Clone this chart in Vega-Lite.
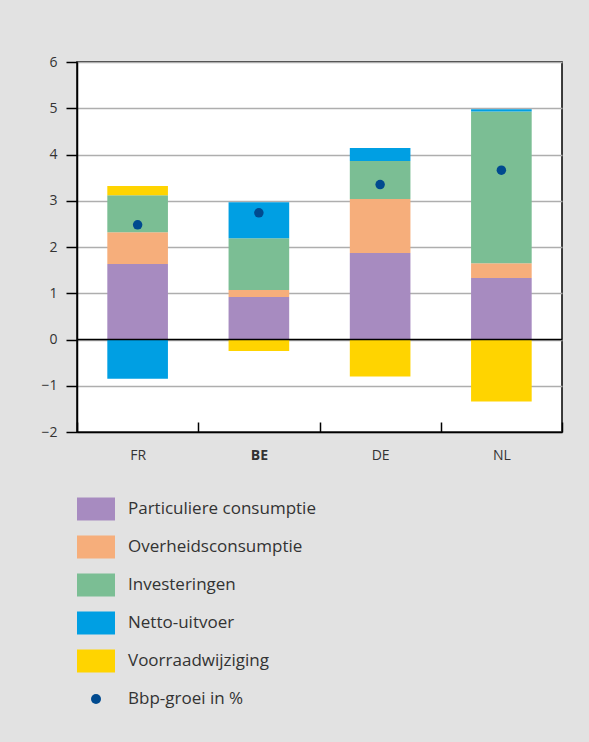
{
  "$schema": "https://vega.github.io/schema/vega-lite/v6.json",
  "width": 485,
  "height": 370,
  "autosize": {"type": "none"},
  "padding": {"left": 77, "top": 62, "right": 27, "bottom": 310},
  "background": "#E2E2E2",
  "config": {
    "font": "Open Sans",
    "view": {"fill": "#FFFFFF", "stroke": "#000000", "strokeWidth": 1.5},
    "axisY": {
      "title": null,
      "labelFontSize": 14,
      "labelColor": "#333333",
      "labelPadding": 9,
      "tickSize": 11,
      "tickColor": "#000000",
      "tickWidth": 1.5,
      "domainColor": "#000000",
      "domainWidth": 1.5,
      "grid": true,
      "gridColor": "#AEAEAE",
      "gridWidth": 1.5
    },
    "axisX": {
      "title": null,
      "labelAngle": 0,
      "labelFontSize": 14,
      "labelColor": "#333333",
      "labelPadding": 26,
      "tickBand": "extent",
      "tickSize": -10,
      "tickColor": "#000000",
      "tickWidth": 1.5,
      "domainColor": "#000000",
      "domainWidth": 1.5,
      "grid": false
    }
  },
  "data": {
    "values": [
      {"land": "FR", "component": "Particuliere consumptie", "value": 1.63},
      {"land": "FR", "component": "Overheidsconsumptie", "value": 0.69},
      {"land": "FR", "component": "Investeringen", "value": 0.80},
      {"land": "FR", "component": "Netto-uitvoer", "value": -0.85},
      {"land": "FR", "component": "Voorraadwijziging", "value": 0.20},
      {"land": "FR", "component": "Bbp-groei in %", "value": 2.48},
      {"land": "BE", "component": "Particuliere consumptie", "value": 0.92},
      {"land": "BE", "component": "Overheidsconsumptie", "value": 0.15},
      {"land": "BE", "component": "Investeringen", "value": 1.12},
      {"land": "BE", "component": "Netto-uitvoer", "value": 0.78},
      {"land": "BE", "component": "Voorraadwijziging", "value": -0.25},
      {"land": "BE", "component": "Bbp-groei in %", "value": 2.74},
      {"land": "DE", "component": "Particuliere consumptie", "value": 1.87},
      {"land": "DE", "component": "Overheidsconsumptie", "value": 1.17},
      {"land": "DE", "component": "Investeringen", "value": 0.82},
      {"land": "DE", "component": "Netto-uitvoer", "value": 0.28},
      {"land": "DE", "component": "Voorraadwijziging", "value": -0.80},
      {"land": "DE", "component": "Bbp-groei in %", "value": 3.35},
      {"land": "NL", "component": "Particuliere consumptie", "value": 1.33},
      {"land": "NL", "component": "Overheidsconsumptie", "value": 0.32},
      {"land": "NL", "component": "Investeringen", "value": 3.28},
      {"land": "NL", "component": "Netto-uitvoer", "value": 0.05},
      {"land": "NL", "component": "Voorraadwijziging", "value": -1.34},
      {"land": "NL", "component": "Bbp-groei in %", "value": 3.66}
    ]
  },
  "layer": [
    {
      "transform": [
        {"filter": "datum.component !== 'Bbp-groei in %'"},
        {"calculate": "indexof(['Particuliere consumptie', 'Overheidsconsumptie', 'Investeringen', 'Netto-uitvoer', 'Voorraadwijziging'], datum.component)", "as": "stapel"}
      ],
      "mark": {"type": "bar", "width": {"band": 0.5}},
      "encoding": {
        "x": {
          "field": "land",
          "type": "nominal",
          "sort": ["FR", "BE", "DE", "NL"],
          "scale": {"paddingInner": 0, "paddingOuter": 0},
          "axis": {
            "labelFontWeight": {"condition": {"test": "datum.value === 'BE'", "value": "bold"}, "value": "normal"}
          }
        },
        "y": {
          "field": "value",
          "type": "quantitative",
          "stack": "zero",
          "scale": {"domain": [-2, 6], "nice": false, "zero": false},
          "axis": {"values": [-2, -1, 0, 1, 2, 3, 4, 5, 6]}
        },
        "order": {"field": "stapel", "type": "quantitative", "sort": "ascending"},
        "color": {
          "field": "component",
          "type": "nominal",
          "sort": ["Particuliere consumptie", "Overheidsconsumptie", "Investeringen", "Netto-uitvoer", "Voorraadwijziging", "Bbp-groei in %"],
          "scale": {
            "domain": ["Particuliere consumptie", "Overheidsconsumptie", "Investeringen", "Netto-uitvoer", "Voorraadwijziging", "Bbp-groei in %"],
            "range": ["#A78BC0", "#F6AE7B", "#7BBE94", "#009FE3", "#FFD400", "#004A8F"]
          },
          "legend": {
            "title": null,
            "orient": "none",
            "legendX": 0,
            "legendY": 428,
            "direction": "vertical",
            "padding": 0,
            "rowPadding": 7,
            "symbolType": "M-1,-0.605H1V0.605H-1Z",
            "symbolSize": 1444,
            "symbolStrokeWidth": 0,
            "symbolOpacity": 1,
            "labelFontSize": 17,
            "labelColor": "#333333",
            "labelOffset": 13,
            "labelLimit": 400,
            "encode": {
              "symbols": {
                "update": {
                  "shape": {"signal": "datum.value === 'Bbp-groei in %' ? 'circle' : 'M-1,-0.605H1V0.605H-1Z'"},
                  "size": {"signal": "datum.value === 'Bbp-groei in %' ? 100 : 1444"},
                  "strokeWidth": {"value": 0},
                  "opacity": {"value": 1}
                }
              }
            }
          }
        }
      }
    },
    {
      "data": {"values": [{"nul": 0}]},
      "mark": {"type": "rule", "color": "#000000", "strokeWidth": 1.5},
      "encoding": {"y": {"field": "nul", "type": "quantitative"}}
    },
    {
      "transform": [{"filter": "datum.component === 'Bbp-groei in %'"}],
      "mark": {"type": "point", "filled": true, "size": 90, "opacity": 1},
      "encoding": {
        "x": {"field": "land", "type": "nominal", "sort": ["FR", "BE", "DE", "NL"]},
        "y": {"field": "value", "type": "quantitative"},
        "color": {"field": "component", "type": "nominal"}
      }
    }
  ]
}
